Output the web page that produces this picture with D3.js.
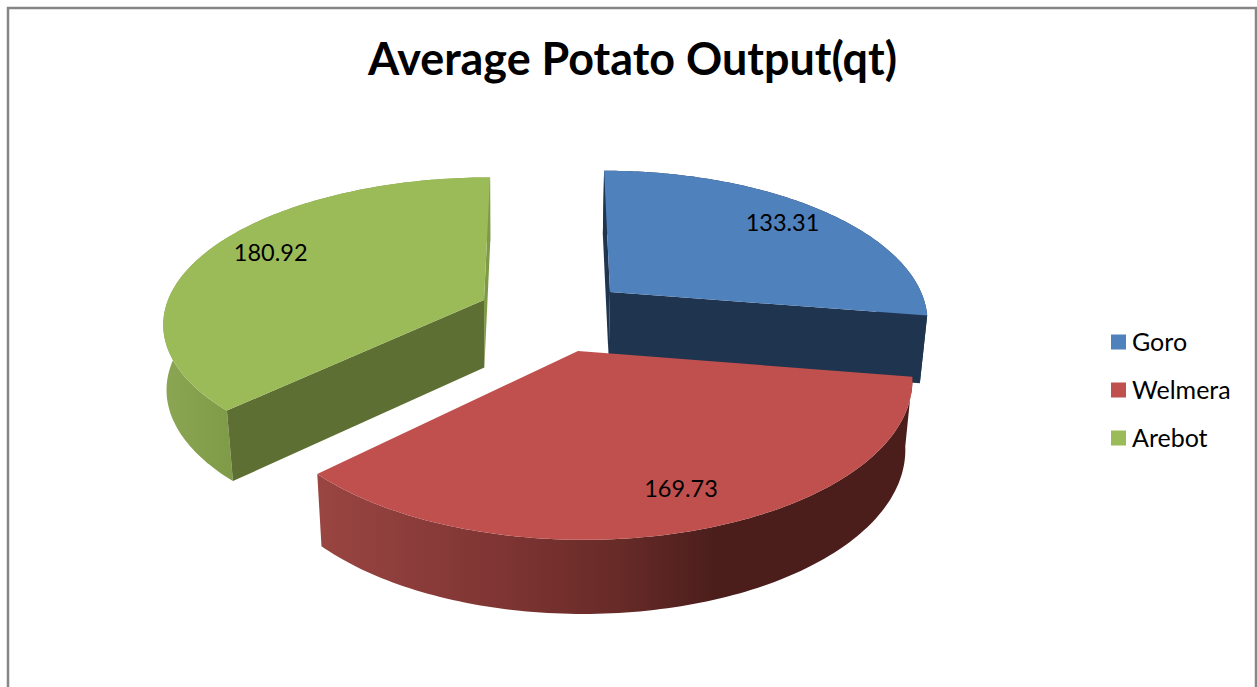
<!DOCTYPE html>
<html>
<head>
<meta charset="utf-8">
<script src="https://cdn.jsdelivr.net/npm/d3@7"></script>
<style>html,body{margin:0;padding:0;background:#fff;overflow:hidden}svg{display:block}</style>
</head>
<body>
<svg id="c" width="1257" height="687"></svg>
<script>
// Data
const categories = ["Goro", "Welmera", "Arebot"];
const values = [133.31, 169.73, 180.92];
const title = "Average Potato Output(qt)";

// Style
const topColors = ["#4f81bd", "#c0504d", "#9bbb59"];
// Face seen at each slice's first and last angle (null = turned away from the viewer)
const startFaceColors = ["#1f344f", null, "#5d6f32"];
const endFaceColors = ["#1f344f", null, "#7f9a47"];
// Per-slice projection of the exploded unit disc onto the page
const proj = [
  {ax:610, ay:292, A:311, B:7,  C:0, E:143, G:0,      H:-0.179},
  {ax:578, ay:351, A:324, B:0,  C:0, E:155, G:-0.015, H:-0.179},
  {ax:484, ay:300, A:316, B:-7, C:0, E:141, G:0,      H:-0.15}
];
const labelTurn = [0, -0.035, 0.059];
const labelRadius = [0.813, 0.81, 0.80];

const svg = d3.select("#c");
const defs = svg.append("defs");

function gradient(id, stops, x1, x2) {
  const g = defs.append("linearGradient").attr("id", id)
    .attr("gradientUnits", "userSpaceOnUse")
    .attr("x1", x1).attr("x2", x2).attr("y1", 0).attr("y2", 0);
  stops.forEach(s => g.append("stop").attr("offset", s[0]).attr("stop-color", s[1]));
}
gradient("rim0", [[0, "#1f344f"], [1, "#1f344f"]], 600, 930);
gradient("rim1", [[0, "#994542"], [0.45, "#7f3533"], [0.75, "#682b28"], [1, "#4b1e1c"]], 320, 715);
gradient("rim2", [[0, "#8aa652"], [1, "#7f9b47"]], 165, 232);

// Frame
svg.append("rect").attr("x", 8).attr("y", 8).attr("width", 1248).attr("height", 720)
  .attr("fill", "#fff").attr("stroke", "#868686").attr("stroke-width", 2.5);
svg.append("text").attr("x", 632.5).attr("y", 75).attr("text-anchor", "middle")
  .attr("font-family", "Lato").attr("font-weight", 700).attr("font-size", 44.9)
  .attr("fill", "#000").text(title);

const pie = d3.pie().sort(null).startAngle(0).endAngle(2 * Math.PI);
const arcs = pie(values);

function project(p, t, r) {
  const X = r * Math.sin(t), Y = -r * Math.cos(t);
  const D = 1 + p.G * X + p.H * Y;
  return [p.ax + (p.A * X + p.B * Y) / D, p.ay + (p.C * X + p.E * Y) / D];
}
function drop(pt, i) {
  const lean = i === 2 ? Math.max(0.2, Math.min(1.2, (pt[1] - 250) / 160)) : 1;
  return [pt[0] + (540 - pt[0]) * 0.019 * lean, pt[1] + 59 + 0.028 * pt[1]];
}
const line = d3.line();
const closed = pts => line(pts) + "Z";

// paint order: back slices first, the front slice last
[0, 2, 1].forEach(i => {
  const a = arcs[i], p = proj[i];
  const ts = d3.range(0, 121).map(k => a.startAngle + (a.endAngle - a.startAngle) * k / 120);
  const rim = ts.map(t => project(p, t, 1));
  const apex = project(p, 0, 0);
  const dr = pt => drop(pt, i);
  const g = svg.append("g");
  // outer rim
  g.append("path").attr("d", closed(rim.concat(rim.map(dr).reverse()))).attr("fill", `url(#rim${i})`);
  // cut faces
  const sPt = rim[0], ePt = rim[rim.length - 1];
  if (endFaceColors[i]) g.append("path").attr("d", closed([ePt, apex, dr(apex), dr(ePt)])).attr("fill", endFaceColors[i]);
  if (startFaceColors[i]) g.append("path").attr("d", closed([sPt, apex, dr(apex), dr(sPt)])).attr("fill", startFaceColors[i]);
  // top
  g.append("path").attr("d", closed([apex].concat(rim))).attr("fill", topColors[i]);
});

// Data labels
arcs.forEach((a, i) => {
  const mid = (a.startAngle + a.endAngle) / 2;
  const pos = project(proj[i], mid + labelTurn[i], labelRadius[i]);
  svg.append("text").attr("x", pos[0]).attr("y", pos[1]).attr("dy", "0.35em")
    .attr("text-anchor", "middle").attr("font-family", "Lato").attr("font-size", 23.5)
    .attr("fill", "#000").text(d3.format(".2f")(a.value));
});

// Legend
const rowY = d3.scalePoint().domain(categories).range([342, 438]);
const color = d3.scaleOrdinal().domain(categories).range(topColors);
categories.forEach(c => {
  svg.append("rect").attr("x", 1111).attr("y", rowY(c) - 7.5).attr("width", 15).attr("height", 15).attr("fill", color(c));
  svg.append("text").attr("x", 1132).attr("y", rowY(c)).attr("dy", "0.35em")
    .attr("font-family", "Lato").attr("font-size", 25).attr("fill", "#000").text(c);
});
</script>
</body>
</html>
